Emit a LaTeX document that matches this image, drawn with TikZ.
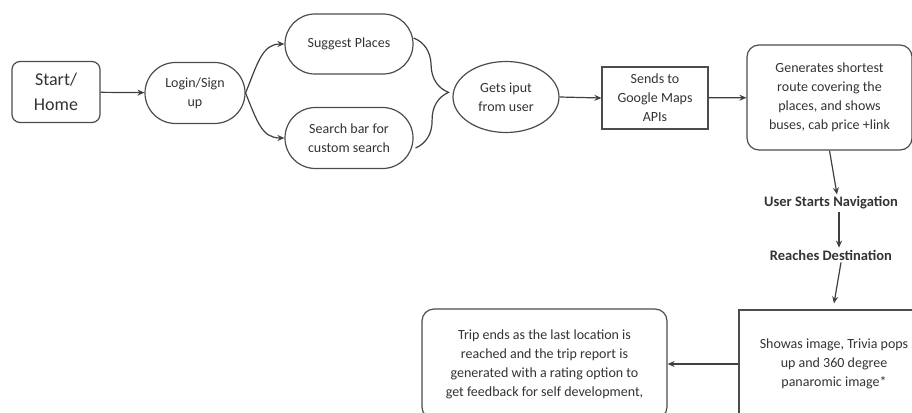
\documentclass[tikz,border=0pt]{standalone}
\usepackage{fontspec}
\setmainfont{Carlito}
\usetikzlibrary{arrows.meta,shapes.geometric,shapes.misc,decorations.pathreplacing,calc}
\tikzset{
	flow/.style={draw=black!70,line width=1.2pt,text=black!80,align=center,inner sep=0pt,font=\fontsize{14}{19}\selectfont},
	pill/.style={flow,rounded rectangle,minimum height=61pt},
	rbox/.style={flow,rounded corners=8pt},
	sbox/.style={flow,rectangle},
	steplabel/.style={text=black!80,inner sep=2pt,font=\fontsize{14.5}{17}\selectfont\bfseries},
	arr/.style={-{Stealth[length=7pt,width=6pt]},line width=1.2pt,draw=black!75},
}
\begin{document}
\begin{tikzpicture}[x=1pt,y=-1pt]% trip planner flow
	\useasboundingbox (0,0) rectangle (912,412);
	
	\node[rbox,minimum width=88pt,minimum height=61pt,font=\fontsize{18}{25}\selectfont] (start) at (56,92) {Start/\\Home};
	\node[pill,minimum width=100pt] (login) at (195,93) {Login/Sign\\up};
	\node[pill,minimum width=128pt,minimum height=60pt] (suggest) at (349,44) {Suggest Places};
	\node[pill,minimum width=128pt] (search) at (349,138) {Search bar for\\custom search};
	\node[flow,ellipse,minimum width=106pt,minimum height=71pt] (gets) at (506,97) {Gets iput\\from user};
	\node[sbox,minimum width=106pt,minimum height=62pt] (sends) at (655,98) {Sends to\\Google Maps\\APIs};
	\node[rbox,rounded corners=12pt,minimum width=165pt,minimum height=105pt] (gen) at (829.5,97.5) {Generates shortest\\route covering the\\places, and shows\\buses, cab price +link};
	\node[steplabel] (usn) at (831,203) {User Starts Navigation};
	\node[steplabel] (reach) at (831,255) {Reaches Destination};
	\node[sbox,minimum width=190pt,minimum height=108pt] (show) at (834,364) {Showas image, Trivia pops\\up and 360 degree\\panaromic image*};
	\node[rbox,rounded corners=12pt,minimum width=245pt,minimum height=110pt] (trip) at (544.5,364) {Trip ends as the last location is\\reached and the trip report is\\generated with a rating option to\\get feedback for self development,};
	
	\draw[arr] (start) -- (login);
	\draw[arr] (login.east) .. controls +(12,-30) and +(-22,0) .. (suggest.west);
	\draw[arr] (login.east) .. controls +(12,30) and +(-22,0) .. (search.west);
	\draw[decorate,decoration={brace,amplitude=34pt},line width=1.2pt,draw=black!75] ($(suggest.east)+(0,-6)$) -- ($(search.east)+(2,10)$);
	\draw[arr] (gets.east) -- (sends.west);
	\draw[arr] (sends) -- (gen);
	\draw[arr] (gen.south) -- ($(usn.north)+(6,0)$);
	\draw[arr] ($(usn.south)+(8,0)$) -- ($(reach.north)+(8,0)$);
	\draw[arr] ($(reach.south)+(10,0)$) -- ($(show.north)+(0,-6)$);
	\draw[arr] (show.west) -- (trip.east);
\end{tikzpicture}
\end{document}
